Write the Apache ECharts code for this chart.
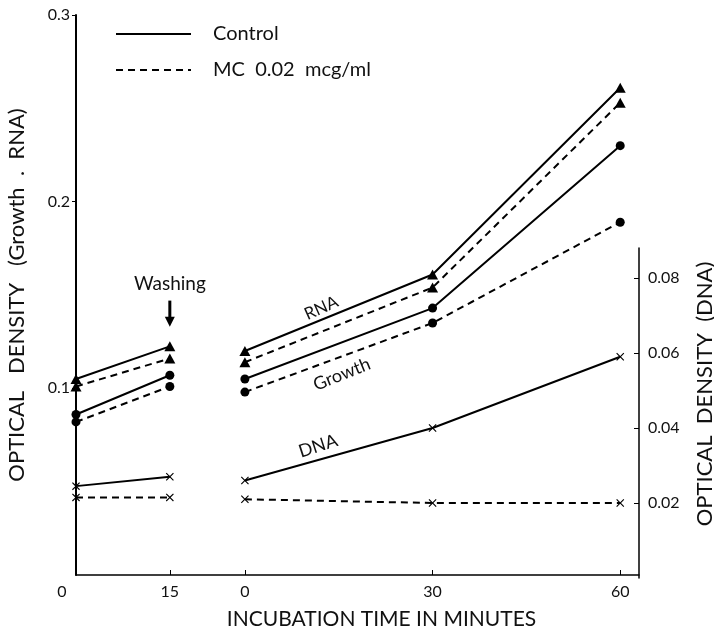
<!DOCTYPE html>
<html>
<head>
<meta charset="utf-8">
<script src="https://cdn.jsdelivr.net/npm/echarts@6/dist/echarts.min.js"></script>
<style>
  html, body { margin: 0; padding: 0; background: #fff; }
  #chart { width: 714px; height: 634px; }
</style>
</head>
<body>
<div id="chart"></div>
<script>
  // time points (minutes) before and after washing
  const timeBefore = [0, 15];
  const timeAfter = [0, 30, 60];
  const afterStart = 27; // where the second time scale starts on the axis

  // optical density, growth and RNA (left axis)
  const rnaControlBefore = [0.105, 0.1225];
  const rnaControlAfter = [0.120, 0.161, 0.261];
  const rnaMcBefore = [0.101, 0.116];
  const rnaMcAfter = [0.114, 0.154, 0.253];
  const growthControlBefore = [0.086, 0.107];
  const growthControlAfter = [0.105, 0.143, 0.230];
  const growthMcBefore = [0.082, 0.101];
  const growthMcAfter = [0.098, 0.135, 0.189];

  // optical density, DNA (right axis)
  const dnaControlBefore = [0.0245, 0.027];
  const dnaControlAfter = [0.026, 0.040, 0.059];
  const dnaMcBefore = [0.0215, 0.0215];
  const dnaMcAfter = [0.021, 0.020, 0.020];

  const legendNames = ['Control', 'MC  0.02  mcg/ml'];

  const FONT = 'Lato';
  const dash = [7, 5];
  const xPath = 'path://M1,0L5,4L9,0L10,1L6,5L10,9L9,10L5,6L1,10L0,9L4,5L0,1Z';

  function joinData(before, after) {
    let out = [];
    timeBefore.forEach((t, i) => out.push([t, before[i]]));
    out.push([(timeBefore[1] + afterStart) / 2, '-']);
    timeAfter.forEach((t, i) => out.push([t + afterStart, after[i]]));
    return out;
  }

  const labelMap = {};
  timeBefore.forEach(t => labelMap[t] = String(t));
  timeAfter.forEach(t => labelMap[t + afterStart] = String(t));
  const tickValues = timeBefore.concat(timeAfter.map(t => t + afterStart));

  function makeSeries(name, data, dashed, symbol, size, grid) {
    return {
      name: name,
      type: 'line',
      xAxisIndex: grid,
      yAxisIndex: grid,
      data: data,
      symbol: symbol,
      symbolSize: size,
      showSymbol: true,
      connectNulls: false,
      itemStyle: { color: '#000' },
      lineStyle: { color: '#000', width: 2, type: dashed ? dash : 'solid' },
      emphasis: { disabled: true },
      z: 3
    };
  }

  let myChart = echarts.init(document.getElementById('chart'));

  myChart.setOption({
    backgroundColor: '#fff',
    animation: false,
    textStyle: { fontFamily: FONT, color: '#111' },
    legend: {
      data: legendNames,
      orient: 'vertical',
      left: 110,
      top: 19,
      itemWidth: 75,
      itemHeight: 14,
      itemGap: 16,
      selectedMode: false,
      itemStyle: { opacity: 0 },
      textStyle: { fontFamily: FONT, fontSize: 20, color: '#111', padding: [0, 0, 0, 17] }
    },
    grid: [
      { left: 76, right: 75, top: 15, bottom: 59, containLabel: false, outerBoundsMode: 'none' },
      { left: 76, right: 75, top: 248, bottom: 56, containLabel: false, outerBoundsMode: 'none' }
    ],
    xAxis: [
      {
        type: 'value', gridIndex: 0, min: 0, max: 90,
        name: 'INCUBATION TIME IN MINUTES',
        nameLocation: 'middle',
        nameGap: 34,
        nameTextStyle: { fontFamily: FONT, fontSize: 21, color: '#111', padding: [0, 0, 0, 48] },
        splitLine: { show: false },
        axisLine: { lineStyle: { color: '#000', width: 1.5 } },
        axisTick: { inside: true, length: 5, customValues: tickValues.slice(1), lineStyle: { color: '#000' } },
        axisLabel: {
          customValues: tickValues,
          margin: 9,
          fontSize: 16,
          color: '#111',
          formatter: v => v === 0 ? '{o|0}' : labelMap[v],
          rich: { o: { fontSize: 16, fontFamily: FONT, color: '#111', padding: [0, 28, 0, 0] } }
        }
      },
      { type: 'value', gridIndex: 1, min: 0, max: 90, show: false }
    ],
    yAxis: [
      {
        type: 'value', gridIndex: 0, position: 'left', min: 0, max: 0.3, interval: 0.1,
        name: 'OPTICAL   DENSITY   (Growth  .  RNA)',
        nameLocation: 'middle',
        nameRotate: 90,
        nameGap: 48,
        nameTextStyle: { fontFamily: FONT, fontSize: 22, color: '#111' },
        splitLine: { show: false },
        axisLine: { show: true, onZero: false, lineStyle: { color: '#000', width: 2 } },
        axisTick: { show: true, length: 4, lineStyle: { color: '#000' } },
        axisLabel: { showMinLabel: false, margin: 6, fontSize: 16, color: '#111' }
      },
      {
        type: 'value', gridIndex: 1, position: 'right', min: 0, max: 0.088, interval: 0.02,
        name: 'OPTICAL  DENSITY  (DNA)',
        nameLocation: 'middle',
        nameRotate: 90,
        nameGap: 55,
        nameTextStyle: { fontFamily: FONT, fontSize: 22, color: '#111', padding: [0, 0, 0, 38] },
        splitLine: { show: false },
        axisLine: { show: true, onZero: false, lineStyle: { color: '#000', width: 1.5 } },
        axisTick: { show: true, inside: true, length: 5, lineStyle: { color: '#000' } },
        axisLabel: { showMinLabel: false, showMaxLabel: false, margin: 9, fontSize: 16, color: '#111' }
      }
    ],
    series: [
      // legend-only entries
      { name: legendNames[0], type: 'line', data: [], symbol: 'none', symbolSize: 0, lineStyle: { color: '#000', width: 2 }, itemStyle: { color: '#000' } },
      { name: legendNames[1], type: 'line', data: [], symbol: 'none', symbolSize: 0, lineStyle: { color: '#000', width: 2, type: dash }, itemStyle: { color: '#000' } },

      makeSeries('RNA control', joinData(rnaControlBefore, rnaControlAfter), false, 'triangle', [11, 10], 0),
      makeSeries('RNA MC', joinData(rnaMcBefore, rnaMcAfter), true, 'triangle', [11, 10], 0),
      makeSeries('Growth control', joinData(growthControlBefore, growthControlAfter), false, 'circle', 9, 0),
      makeSeries('Growth MC', joinData(growthMcBefore, growthMcAfter), true, 'circle', 9, 0),
      makeSeries('DNA control', joinData(dnaControlBefore, dnaControlAfter), false, xPath, 8, 1),
      makeSeries('DNA MC', joinData(dnaMcBefore, dnaMcAfter), true, xPath, 8, 1)
    ]
  });

  // annotations placed from data coordinates
  function px(x, y) {
    return myChart.convertToPixel({ xAxisIndex: 0, yAxisIndex: 0 }, [x, y]);
  }
  const wText = px(15, 0.156);
  const aTop = px(15, 0.147);
  const aTip = px(15, 0.133);
  const rnaPos = px(39.2, 0.143);
  const growthPos = px(42.5, 0.1075);
  const dnaPos = px(38.7, 0.069);
  const deg = Math.PI / 180;

  myChart.setOption({
    graphic: [
      { type: 'text', x: wText[0], y: wText[1], style: { text: 'Washing', font: '19px ' + FONT, fill: '#111', align: 'center', verticalAlign: 'middle' } },
      { type: 'line', shape: { x1: aTop[0], y1: aTop[1], x2: aTop[0], y2: aTip[1] - 8 }, style: { stroke: '#000', lineWidth: 3 } },
      { type: 'polygon', shape: { points: [[aTip[0] - 5, aTip[1] - 10], [aTip[0] + 5, aTip[1] - 10], [aTip[0], aTip[1]]] }, style: { fill: '#000' } },
      { type: 'text', x: rnaPos[0], y: rnaPos[1], rotation: 24 * deg, style: { text: 'RNA', font: '17px ' + FONT, fill: '#111', align: 'center', verticalAlign: 'middle' } },
      { type: 'text', x: growthPos[0], y: growthPos[1], rotation: 22 * deg, style: { text: 'Growth', font: '18px ' + FONT, fill: '#111', align: 'center', verticalAlign: 'middle' } },
      { type: 'text', x: dnaPos[0], y: dnaPos[1], rotation: 18 * deg, style: { text: 'DNA', font: '18px ' + FONT, fill: '#111', align: 'center', verticalAlign: 'middle' } }
    ]
  });
</script>
</body>
</html>
